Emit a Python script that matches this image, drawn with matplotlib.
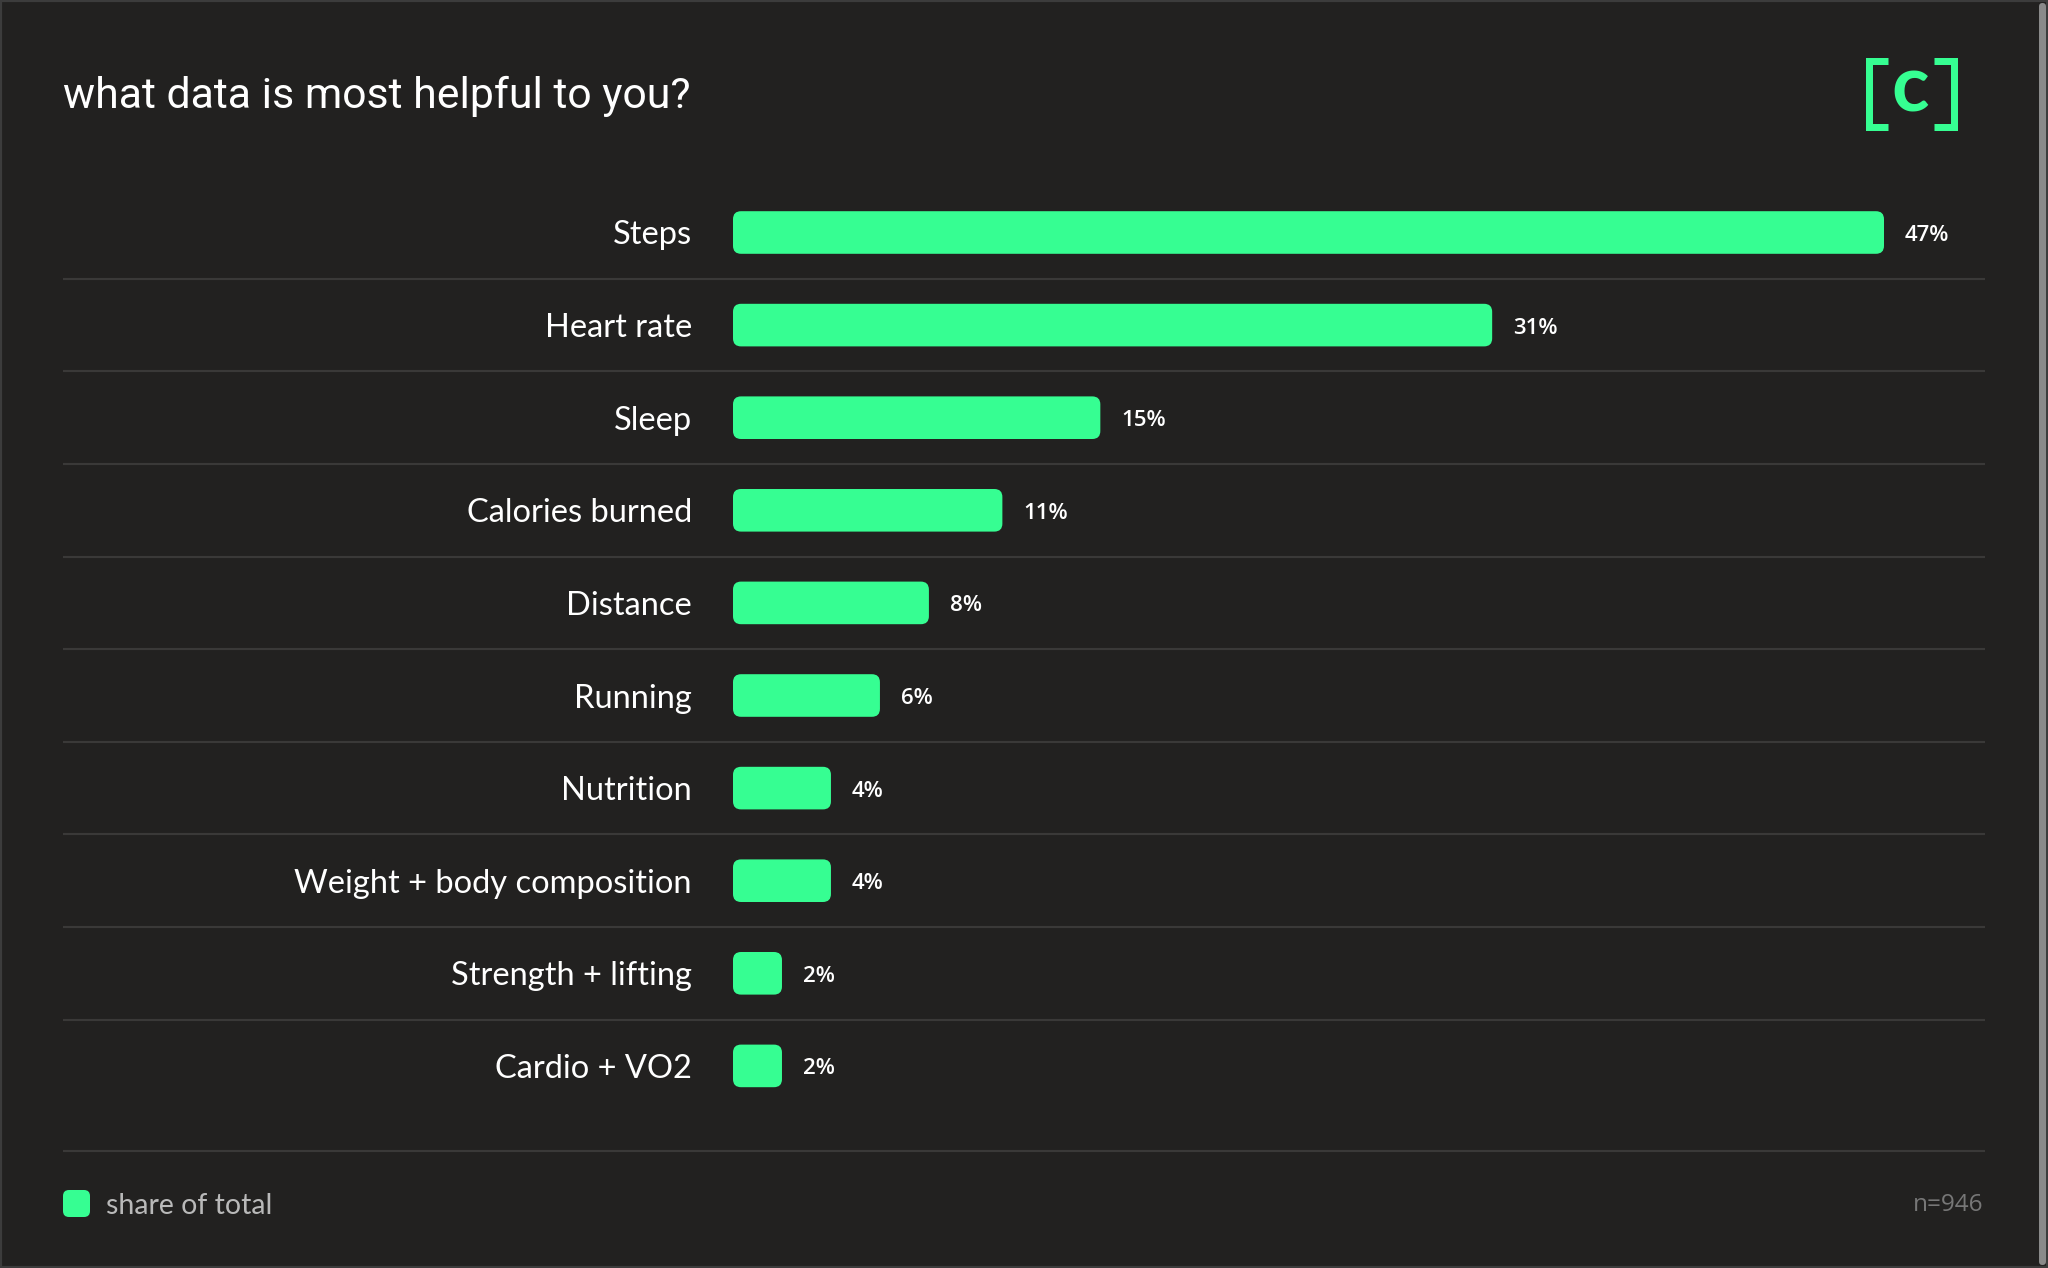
import matplotlib
matplotlib.use("Agg")
import matplotlib.pyplot as plt
from matplotlib.patches import FancyBboxPatch, Rectangle
from matplotlib.lines import Line2D

# ---- data ----
categories = ["Steps", "Heart rate", "Sleep", "Calories burned", "Distance",
              "Running", "Nutrition", "Weight + body composition",
              "Strength + lifting", "Cardio + VO2"]
values = [47, 31, 15, 11, 8, 6, 4, 4, 2, 2]
title = "what data is most helpful to you?"
legend_label = "share of total"
sample_note = "n=946"

# ---- style ----
BG = "#222120"
GREEN = "#36FE92"
GRID = "#3a3938"
W, H = 2048, 1268
DPI = 100

fig = plt.figure(figsize=(W / DPI, H / DPI), dpi=DPI, facecolor=BG)

def fx(px):
    return px / W

def fy(py):
    return 1 - py / H

# axes geometry (pixels)
ax_left, ax_right, ax_top, ax_bot = 63, 1985, 180, 1160
zero_px, full_px = 733, 1884           # 0% and 47% positions
row0_px, row_step = 232.5, 92.6
PX = (full_px - zero_px) / values[0]   # pixels per percent

ax = fig.add_axes([fx(ax_left), fy(ax_bot), (ax_right - ax_left) / W, (ax_bot - ax_top) / H])
ax.set_facecolor(BG)
ax.set_xlim(-(zero_px - ax_left) / PX, (ax_right - zero_px) / PX)
ax.set_ylim((ax_bot - row0_px) / row_step, (ax_top - row0_px) / row_step)
ax.axis("off")

ypos = list(range(len(categories)))
bar_h = 42.6 / row_step
bars = ax.barh(ypos, values, height=bar_h, color=GREEN, label=legend_label)

r_px = 8
aspect = PX / row_step
for b in bars:
    b.set_visible(False)
    p = FancyBboxPatch((b.get_x(), b.get_y()), b.get_width(), b.get_height(),
                       boxstyle=f"round,pad=0,rounding_size={r_px / PX}",
                       mutation_aspect=aspect, facecolor=GREEN, edgecolor="none")
    ax.add_patch(p)

# separators
for i in range(len(categories) - 1):
    ax.axhline(i + 0.5, color=GRID, lw=1.5, zorder=0)
ax.axhline((1150.7 - row0_px) / row_step, color=GRID, lw=1.5, zorder=0)

label_font = "Lato"
num_font = "Open Sans"
PT = 0.72  # points per pixel at 100 dpi
for i, (c, v) in enumerate(zip(categories, values)):
    ax.annotate(c, xy=(0, i), xytext=(-41 * PT, -3 * PT), textcoords="offset points",
                ha="right", va="center", color="white", fontsize=23.5,
                fontfamily=label_font)
    ax.annotate(f"{v}%", xy=(v, i), xytext=(21 * PT, -3 * PT), textcoords="offset points",
                ha="left", va="center", color="white", fontsize=16,
                fontfamily=num_font, fontweight="semibold")

# title
fig.text(fx(63), fy(108), title, color="white", fontsize=30.8, fontfamily="Roboto",
         ha="left", va="baseline")

# logo [c]
lw_pt = 7 * PT
for pts in ([(1888, 60.5), (1868.5, 60.5), (1868.5, 126.5), (1888, 126.5)],
            [(1934, 60.5), (1953.5, 60.5), (1953.5, 126.5), (1934, 126.5)]):
    xs = [fx(p[0]) for p in pts]
    ys = [fy(p[1]) for p in pts]
    fig.add_artist(Line2D(xs, ys, color=GREEN, lw=lw_pt, solid_joinstyle="miter",
                          solid_capstyle="butt"))
fig.text(fx(1910), fy(112), "c", color=GREEN, fontsize=56, fontfamily="Lato",
         fontweight="bold", ha="center", va="baseline")

# legend
fig.add_artist(FancyBboxPatch((fx(63), fy(1217)), fx(90) - fx(63), (1217 - 1190) / H,
                              boxstyle=f"round,pad=0,rounding_size={6 / W}",
                              mutation_aspect=W / H, facecolor=GREEN, edgecolor="none",
                              transform=fig.transFigure))
fig.text(fx(106), fy(1206), legend_label, color="#b9b9b9", fontsize=20.5,
         fontfamily=label_font, ha="left", va="center")
fig.text(fx(1983), fy(1205), sample_note, color="#777777", fontsize=17.5,
         fontfamily=num_font, ha="right", va="center")

# window frame + scrollbar
fig.add_artist(Rectangle((0, 0), 1, 1, transform=fig.transFigure, fill=False,
                         edgecolor="#3c3c3c", lw=3))
fig.add_artist(FancyBboxPatch((fx(2039), fy(1265)), fx(2046) - fx(2039), (1265 - 3) / H,
                              boxstyle=f"round,pad=0,rounding_size={3.5 / W}",
                              mutation_aspect=W / H, facecolor="#8a8a8a", edgecolor="none",
                              transform=fig.transFigure))

fig.savefig("out.png", dpi=DPI, facecolor=BG)
